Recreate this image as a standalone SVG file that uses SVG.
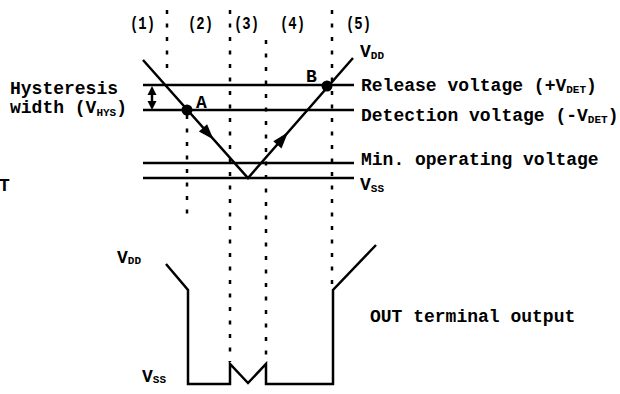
<svg xmlns="http://www.w3.org/2000/svg" width="620" height="394" viewBox="0 0 620 394">
<style>
text{font-family:"Liberation Mono","DejaVu Sans Mono",monospace;font-size:18px;font-weight:bold;fill:#000}
.sub{font-size:11px}
.ln{stroke:#000;stroke-width:2.5;fill:none}
.dot{stroke:#000;stroke-width:2.5;fill:none;stroke-dasharray:4 9.5}
.ah{fill:#000;stroke:none}
</style>
<rect width="620" height="394" fill="#fff"/>
<g id="dividers">
<line class="dot" x1="167" y1="10" x2="167" y2="76"/>
<line class="dot" x1="187" y1="115" x2="187" y2="216"/>
<line class="dot" x1="230" y1="10" x2="230" y2="362"/>
<line class="dot" x1="266" y1="40" x2="266" y2="362"/>
<line class="dot" x1="332" y1="10" x2="332" y2="288"/>
</g>
<g id="phase-labels">
<text x="130" y="29" font-size="19" textLength="25" lengthAdjust="spacingAndGlyphs">(1)</text>
<text x="188" y="29" font-size="19" textLength="25" lengthAdjust="spacingAndGlyphs">(2)</text>
<text x="234" y="29" font-size="19" textLength="25" lengthAdjust="spacingAndGlyphs">(3)</text>
<text x="280" y="29" font-size="19" textLength="25" lengthAdjust="spacingAndGlyphs">(4)</text>
<text x="346" y="29" font-size="19" textLength="25" lengthAdjust="spacingAndGlyphs">(5)</text>
</g>
<g id="levels">
<line class="ln" x1="143" y1="85" x2="354" y2="85"/>
<line class="ln" x1="143" y1="110" x2="354" y2="110"/>
<line class="ln" x1="143" y1="163" x2="354" y2="163"/>
<line class="ln" x1="143" y1="178" x2="354" y2="178"/>
</g>
<g id="connectors">
<polyline class="ln" points="143,60 248,178 353,58"/>
<polygon class="ah" points="213.5,139.5 198.9,131.5 207.1,124.2"/>
<polygon class="ah" points="288,132.3 281.5,148.4 273.3,141.2"/>
<line class="ln" x1="152" y1="93" x2="152" y2="103"/>
<polygon class="ah" points="152,86 147.5,95 156.5,95"/>
<polygon class="ah" points="152,110 147.5,101 156.5,101"/>
</g>
<g id="point-A">
<circle cx="187" cy="110" r="5.5" fill="#000"/>
<text x="196" y="108">A</text>
</g>
<g id="point-B">
<circle cx="327" cy="86" r="5.5" fill="#000"/>
<text x="306" y="82">B</text>
</g>
<g id="hysteresis-label">
<text x="10" y="94">Hysteresis</text>
<text x="10" y="113">width (V<tspan class="sub" dy="3">HYS</tspan><tspan dy="-3">)</tspan></text>
</g>
<g id="t-label"><text x="-1" y="191">T</text></g>
<g id="right-labels">
<text x="360" y="57">V<tspan class="sub" dy="2">DD</tspan></text>
<text x="361" y="91">Release voltage (+V<tspan class="sub" dy="2">DET</tspan><tspan dy="-2">)</tspan></text>
<text x="361" y="121">Detection voltage (-V<tspan class="sub" dy="2">DET</tspan><tspan dy="-2">)</tspan></text>
<text x="361" y="165">Min. operating voltage</text>
<text x="360" y="190">V<tspan class="sub" dy="2">SS</tspan></text>
</g>
<g id="output-waveform">
<polyline class="ln" points="166,264 188,290 188,384 230,384 230,364 248,383 266,364 266,384 333,384 333,290 376,245"/>
<text x="117" y="263">V<tspan class="sub" dy="1">DD</tspan></text>
<text x="142" y="382">V<tspan class="sub" dy="1">SS</tspan></text>
<text x="370" y="322">OUT terminal output</text>
</g>
</svg>
